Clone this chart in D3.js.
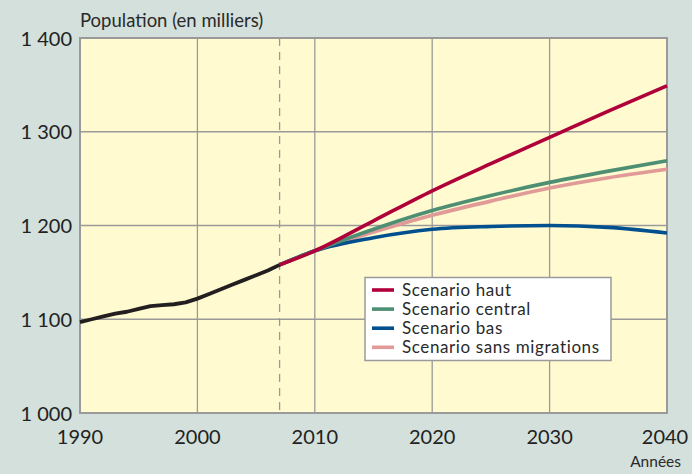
<!DOCTYPE html>
<html><head><meta charset="utf-8">
<script src="https://cdn.jsdelivr.net/npm/d3@7"></script>
<style>
html,body{margin:0;padding:0;background:#d3e0db;}
svg{display:block;font-family:Lato,"Open Sans",sans-serif;}
</style></head>
<body><svg id="c" width="692" height="474"></svg>
<script>
const histYears = [1990,1991,1992,1993,1994,1995,1996,1997,1998,1999,2000,2001,2002,2003,2004,2005,2006,2007];
const histValues = [1097,1100,1103,1106,1108,1111,1114,1115,1116,1118,1122,1127,1132,1137,1142,1147,1152,1158];
const projYears = [2007,2010,2015,2020,2025,2030,2035,2040];
const haut = [1158,1173,1205,1237,1266,1294,1322,1349];
const central = [1158,1173,1196,1216,1232,1246,1258,1269];
const bas = [1158,1173,1187,1196,1199,1200,1198,1192];
const sansMig = [1158,1173,1193,1211,1226,1240,1251,1260];
const seriesNames = ["Scenario haut","Scenario central","Scenario bas","Scenario sans migrations"];
const seriesColors = ["#b0003a","#4e8f73","#00508f","#e09a98"];
const xTicks = [1990,2000,2010,2020,2030,2040];
const yTicks = [1000,1100,1200,1300,1400];
const yTickLabels = ["1 000","1 100","1 200","1 300","1 400"];
const projectionStart = 2007;

const svg = d3.select("#c");
const L=80, R=667, T=38, B=413;
const x = d3.scaleLinear().domain([1990,2040]).range([L,R]);
const y = d3.scaleLinear().domain([1000,1400]).range([B,T]);

svg.append("rect").attr("x",L).attr("y",T).attr("width",R-L).attr("height",B-T).attr("fill","#fffacf");

// grid
const g = svg.append("g");
g.selectAll(".vg").data(xTicks.slice(1,-1)).join("line")
  .attr("x1",d=>x(d)).attr("x2",d=>x(d)).attr("y1",T).attr("y2",B)
  .attr("stroke","#9a9a9a").attr("stroke-width",1.3);
g.selectAll(".hg").data(yTicks.slice(1,-1)).join("line")
  .attr("x1",L).attr("x2",R).attr("y1",d=>y(d)).attr("y2",d=>y(d))
  .attr("stroke","#9a9a9a").attr("stroke-width",1.3);
g.append("line").attr("x1",x(projectionStart)).attr("x2",x(projectionStart)).attr("y1",T).attr("y2",B)
  .attr("stroke","#9a9a9a").attr("stroke-width",1.3).attr("stroke-dasharray","8,6");
svg.append("rect").attr("x",L).attr("y",T).attr("width",R-L).attr("height",B-T)
  .attr("fill","none").attr("stroke","#9a9a9a").attr("stroke-width",2);

// axes labels
svg.selectAll(".yl").data(yTicks).join("text")
  .attr("x",72).attr("y",d=>y(d)).attr("dy","0.38em").attr("text-anchor","end")
  .attr("font-size",20).attr("fill","#222").text((d,i)=>yTickLabels[i]);
svg.selectAll(".xl").data(xTicks).join("text")
  .attr("x",(d,i)=>x(d) - (i===xTicks.length-1?2:0)).attr("y",444).attr("text-anchor","middle")
  .attr("font-size",20).attr("fill","#222").text(d=>d);
svg.append("text").attr("x",80).attr("y",27).attr("font-size",18.5).attr("fill","#2a2a2a").text("Population (en milliers)");
svg.append("text").attr("x",681).attr("y",467).attr("text-anchor","end").attr("font-size",15.5).attr("fill","#2a2a2a").text("Années");

// lines
const proj = [haut,central,bas,sansMig];
const line = d3.line().x(d=>x(d[0])).y(d=>y(d[1])).curve(d3.curveMonotoneX);
const order = [3,2,1,0];
order.forEach(i=>{
  svg.append("path").datum(projYears.map((yr,j)=>[yr,proj[i][j]]))
    .attr("d",line).attr("fill","none").attr("stroke",seriesColors[i]).attr("stroke-width",3.6);
});
svg.append("path").datum(histYears.map((yr,j)=>[yr,histValues[j]]))
  .attr("d",d3.line().x(d=>x(d[0])).y(d=>y(d[1])))
  .attr("fill","none").attr("stroke","#231f20").attr("stroke-width",3.8).attr("stroke-linejoin","round");

// legend
const lg = svg.append("g");
lg.append("rect").attr("x",365).attr("y",277.5).attr("width",246).attr("height",83)
  .attr("fill","#fff").attr("stroke","#9a9a9a").attr("stroke-width",1.5);
seriesNames.forEach((n,i)=>{
  const yy = 290 + i*19.1;
  lg.append("line").attr("x1",372).attr("x2",394).attr("y1",yy).attr("y2",yy)
    .attr("stroke",seriesColors[i]).attr("stroke-width",3.6);
  lg.append("text").attr("x",402).attr("y",yy).attr("dy","0.36em").attr("font-size",17)
    .attr("letter-spacing","0.6px").attr("fill","#2a2a2a").text(n);
});
</script></body></html>
